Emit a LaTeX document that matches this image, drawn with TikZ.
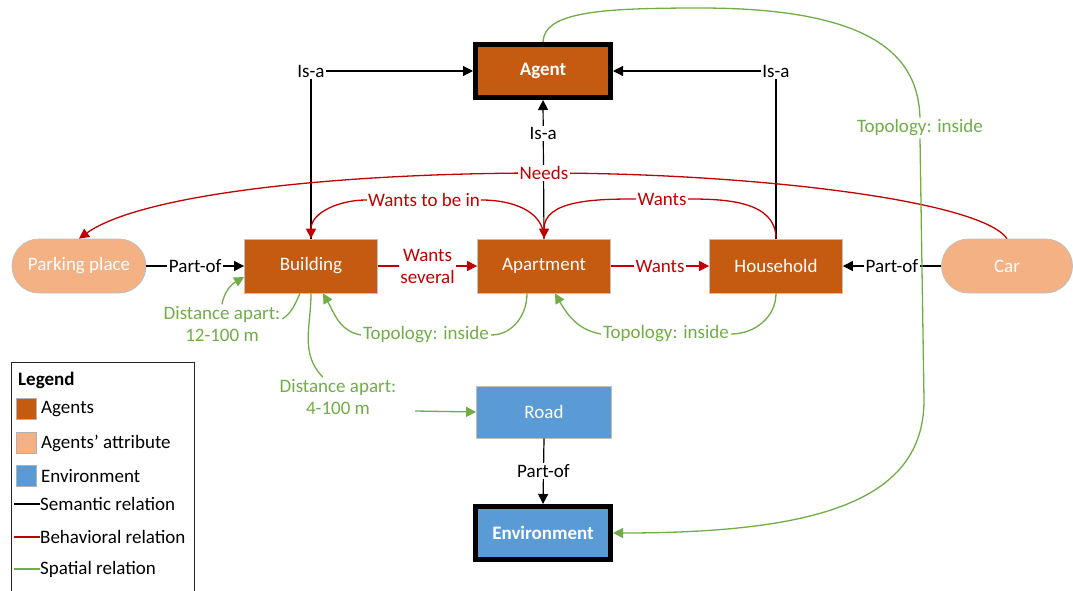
\documentclass[tikz,border=0pt]{standalone}
\usepackage{fontspec}
\setmainfont{Carlito}
\usetikzlibrary{arrows.meta}
\definecolor{agentc}{HTML}{C55A11}
\definecolor{attrc}{HTML}{F4B183}
\definecolor{envc}{HTML}{5B9BD5}
\definecolor{behc}{HTML}{C00000}
\definecolor{spac}{HTML}{70AD47}
\begin{document}
\begin{tikzpicture}[x=1pt,y=-1pt, font=\fontsize{19}{22}\selectfont,
  obox/.style={draw=black!25, line width=0.8pt, text=white, minimum width=133pt, minimum height=54pt, inner sep=0pt},
  agentbox/.style={obox, fill=agentc},
  envbox/.style={obox, fill=envc},
  attrbox/.style={obox, fill=attrc, rounded corners=27pt},
  mainbox/.style={draw=black, line width=5pt, minimum width=135pt, minimum height=53pt, text=white, font=\fontsize{19}{22}\selectfont\bfseries},
  sem/.style={line width=1.2pt, draw=black},
  beh/.style={line width=1.3pt, draw=behc},
  spa/.style={line width=1.3pt, draw=spac},
  arr/.style={-{Triangle[length=10pt,width=10pt]}},
  lab/.style={fill=white, inner sep=1.5pt},
  rlab/.style={lab, text=behc},
  glab/.style={text=spac, inner sep=2pt, align=center},
  legsq/.style={draw=black!30, line width=0.6pt, minimum width=20pt, minimum height=21pt, inner sep=0pt},
  legtx/.style={anchor=west, inner sep=0pt}
]
\useasboundingbox (0,0) rectangle (1073,590);

% nodes
\node[mainbox, fill=agentc] (Agent) at (543,71) {Agent};
\node[agentbox] (Bld) at (311,266) {Building};
\node[agentbox] (Apt) at (544,266) {Apartment};
\node[agentbox] (Hh) at (776,266) {Household};
\node[attrbox, minimum width=134pt] (Park) at (79,266) {Parking place};
\node[attrbox, minimum width=131pt] (Car) at (1007,266) {Car};
\node[envbox, minimum width=135pt, minimum height=52pt] (Road) at (544,412) {Road};
\node[mainbox, fill=envc] (Env) at (543,533) {Environment};

% semantic
\draw[sem,arr] (Bld.north) |- node[lab,pos=0.5]{Is-a} (Agent.west);
\draw[sem,arr] (Hh.north) |- node[lab,pos=0.5]{Is-a} (Agent.east);
\draw[sem,arr] (Apt.north) -- node[lab,pos=0.76]{Is-a} (Agent.south);
\draw[sem,arr] (Park.east) -- node[lab]{Part-of} (Bld.west);
\draw[sem,arr] (Car.west) -- node[lab]{Part-of} (Hh.east);
\draw[sem,arr] (Road.south) -- node[lab]{Part-of} (Env.north);

% behavioral
\coordinate (wtb1) at (482,200);
\coordinate (wtb2) at (366,200);
\coordinate (wa1) at (690,199);
\coordinate (wa2) at (634,199);
\coordinate (nd) at (544,173);
\draw[beh,arr] (Bld.east) -- node[rlab,align=center]{Wants\\several} (Apt.west);
\draw[beh,arr] (Apt.east) -- node[rlab]{Wants} (Hh.west);
\draw[beh,arr] (Apt.north) to[out=90,in=0] (wtb1) -- node[rlab]{Wants to be in} (wtb2) to[out=180,in=90] (Bld.north);
\draw[beh,arr] (Hh.north) to[out=90,in=0] (wa1) -- node[rlab]{Wants} (wa2) to[out=180,in=90] (Apt.north);
\draw[beh,arr] (Car.north) .. controls (980,200) and (750,173) .. (nd) node[rlab]{Needs} .. controls (330,173) and (140,195) .. (Park.north);

% spatial
\node[glab] (D1) at (222,324) {Distance apart:\\12-100 m};
\draw[spa] ([xshift=-11pt]Bld.south) to[out=-115,in=35] ([yshift=5pt]D1.east);
\draw[spa,arr] (D1.north) to[out=80,in=210] ([yshift=-11pt]Bld.west);

\node[glab] (D2) at (338,397) {Distance apart:\\4-100 m};
\draw[spa] (Bld.south) to[out=-90,in=135] ([xshift=-15pt]D2.north);
\coordinate (d2o) at (415,411);
\draw[spa,arr] (d2o) -- (Road.west);

\node[glab] (T1) at (426,335) {Topology: inside};
\draw[spa] ([xshift=-17pt]Apt.south) to[out=-90,in=0] (T1.east);
\draw[spa,arr] (T1.west) to[out=170,in=-60] ([xshift=12pt]Bld.south);

\node[glab] (T2) at (666,334) {Topology: inside};
\draw[spa] (Hh.south) to[out=-90,in=0] (T2.east);
\draw[spa,arr] (T2.west) to[out=170,in=-60] ([xshift=11pt]Apt.south);

\node[glab, fill=white] (T3) at (920,128) {Topology: inside};
\coordinate (tp) at (700,8);
\coordinate (tv) at (924,400);
\draw[spa] (Agent.north) .. controls (544,12) and (600,8) .. (tp) .. controls (880,8) and (918,60) .. (T3.north);
\draw[spa,arr] (T3.south) -- (tv) .. controls (924,500) and (820,533) .. (Env.east);

% legend
\node[draw=black!85, line width=1.2pt, anchor=north west, minimum width=183pt, minimum height=250pt, inner sep=0pt] (leg) at (11,362) {};
\node[legtx, font=\fontsize{19}{22}\selectfont\bfseries] (lt) at (18,380) {Legend};
\node[legsq, fill=agentc] (l1) at (26,409) {};
\node[legtx] (l1t) at (41,409) {Agents};
\node[legsq, fill=attrc] (l2) at (26,443) {};
\node[legtx] (l2t) at (41,443) {Agents’ attribute};
\node[legsq, fill=envc] (l3) at (26,476) {};
\node[legtx] (l3t) at (41,476) {Environment};
\node[legtx] (l4t) at (40,504) {Semantic relation};
\node[legtx] (l5t) at (40,537) {Behavioral relation};
\node[legtx] (l6t) at (40,569) {Spatial relation};
\draw[sem] (14,504) -- (l4t.west);
\draw[beh] (14,537) -- (l5t.west);
\draw[spa] (14,569) -- (l6t.west);
\end{tikzpicture}
\end{document}
